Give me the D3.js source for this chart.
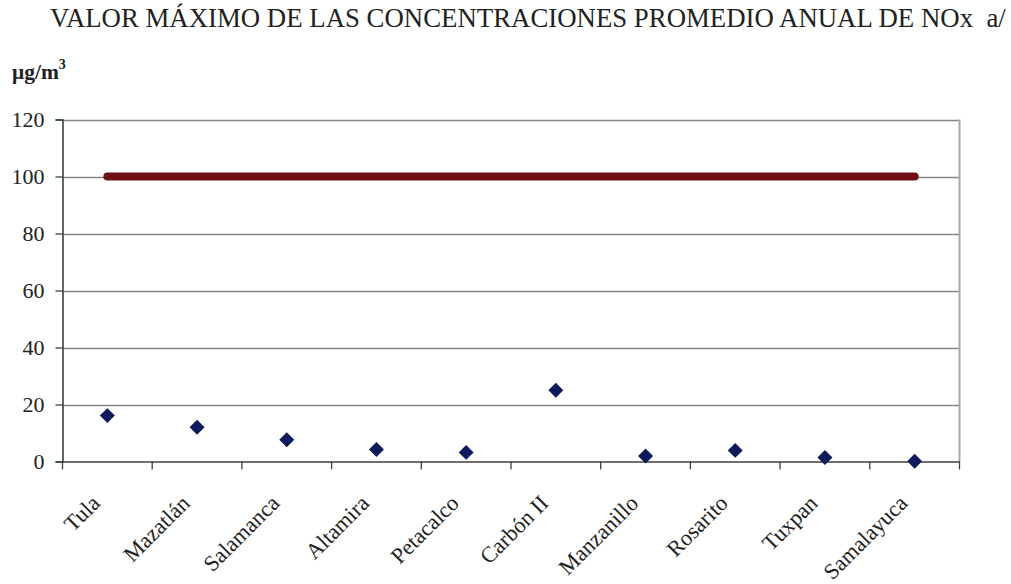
<!DOCTYPE html>
<html><head><meta charset="utf-8">
<script src="https://cdn.jsdelivr.net/npm/d3@7"></script>
<style>body{margin:0;background:#fff}svg{display:block}</style>
</head><body><svg id="c" width="1011" height="584"></svg>
<script>
const categories = ["Tula","Mazatlán","Salamanca","Altamira","Petacalco","Carbón II","Manzanillo","Rosarito","Tuxpan","Samalayuca"];
const concentrations = [16.1, 12.0, 7.6, 4.2, 3.2, 25.0, 1.9, 3.9, 1.4, 0.1];
const limitValues = [100,100,100,100,100,100,100,100,100,100];
const yTicks = [0,20,40,60,80,100,120];
const titleText = "VALOR MÁXIMO DE LAS CONCENTRACIONES PROMEDIO ANUAL DE NOx\u00a0\u00a0a/";

const svg = d3.select("#c");
const L = 62.5, R = 959.5, T = 119.5, B = 461.5;
const x = d3.scaleBand().domain(categories).range([L, R]).padding(0);
const y = d3.scaleLinear().domain([0,120]).range([B, T]);
const cx = d => x(d) + x.bandwidth()/2;
const serif = "'Liberation Serif','Times New Roman',serif";

// title
svg.append("text").attr("x", 50).attr("y", 27).attr("font-family", serif)
  .attr("font-size", 26.8).attr("fill", "#222").text(titleText);
// unit
const u = svg.append("text").attr("x", 12).attr("y", 79).attr("font-family", serif)
  .attr("font-size", 21.5).attr("font-weight", "bold").attr("fill", "#222");
u.append("tspan").text("μg/m");
u.append("tspan").attr("font-size", 14).attr("dy", -10).text("3");

// gridlines
svg.append("g").selectAll("line").data(yTicks.filter(t => t > 0)).join("line")
  .attr("x1", L).attr("x2", R).attr("y1", d => Math.round(y(d)) + 0.5).attr("y2", d => Math.round(y(d)) + 0.5)
  .attr("stroke", "#868686").attr("stroke-width", 1.3);
// right border
svg.append("line").attr("x1", R).attr("x2", R).attr("y1", T).attr("y2", B)
  .attr("stroke", "#a8a8a8").attr("stroke-width", 2);

// y axis
const ya = svg.append("g").attr("transform", `translate(${L},0)`)
  .call(d3.axisLeft(y).tickValues(yTicks).tickSize(7).tickPadding(11));
ya.select(".domain").attr("stroke", "#404040").attr("stroke-width", 1.6);
ya.selectAll(".tick line").attr("stroke", "#404040").attr("stroke-width", 1.3);
ya.selectAll("text").attr("font-family", serif).attr("font-size", 22).attr("fill", "#222").attr("dy", "0.33em");

// x axis
const xa = svg.append("g").attr("transform", `translate(0,${B})`)
  .call(d3.axisBottom(x).tickSize(0).tickFormat(""));
xa.select(".domain").attr("stroke", "#404040").attr("stroke-width", 1.6);
const bounds = categories.map(c => x(c)).concat([R]);
svg.append("g").selectAll("line").data(bounds).join("line")
  .attr("x1", d => d).attr("x2", d => d).attr("y1", B).attr("y2", B + 8)
  .attr("stroke", "#404040").attr("stroke-width", 1.3);
svg.append("g").selectAll("text").data(categories).join("text")
  .attr("transform", d => `translate(${cx(d) - 6},${B + 43}) rotate(-45)`)
  .attr("text-anchor", "end").attr("font-family", serif).attr("font-size", 22.3).attr("fill", "#222")
  .text(d => d);

// limit line
const line = d3.line().x((d, i) => cx(categories[i])).y(d => y(d));
svg.append("path").datum(limitValues).attr("d", line).attr("fill", "none")
  .attr("stroke", "#6e1013").attr("stroke-width", 8).attr("stroke-linecap", "round");

// points
const sym = d3.symbol().type(d3.symbolSquare).size(112);
svg.append("g").selectAll("path").data(concentrations).join("path")
  .attr("d", sym)
  .attr("transform", (d, i) => `translate(${cx(categories[i])},${y(d)}) rotate(45)`)
  .attr("fill", "#0d1a5c");
</script></body></html>
